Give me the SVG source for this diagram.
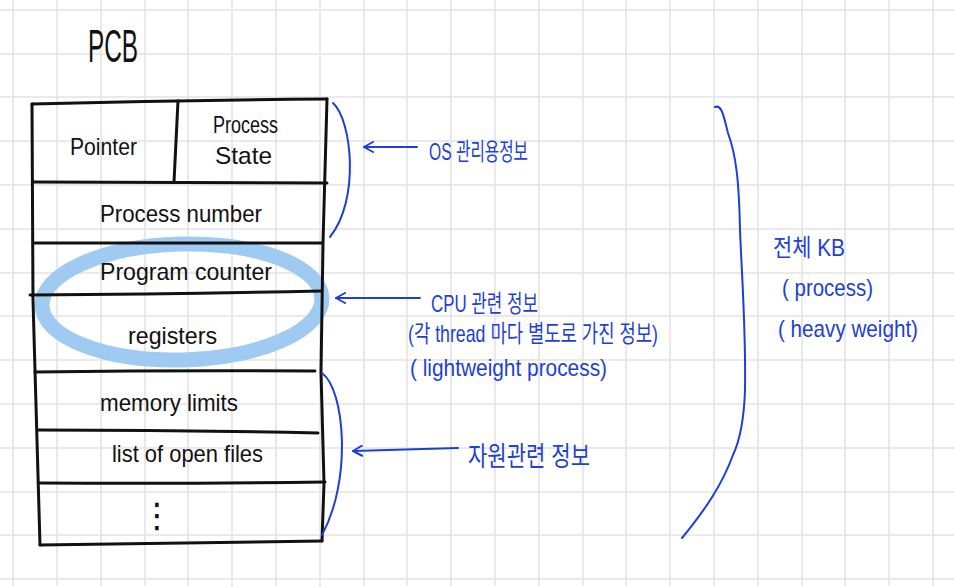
<svg xmlns="http://www.w3.org/2000/svg" width="954" height="586" viewBox="0 0 954 586">
<defs>
<style>
.grid{stroke:#e4e4e4;stroke-width:1.6;fill:none}
.ink{stroke:#111;stroke-width:3;fill:none;stroke-linecap:round;stroke-linejoin:round}
.blu{stroke:#1d3fd6;stroke-width:2;fill:none;stroke-linecap:round;stroke-linejoin:round}
.lbl{font-family:"Liberation Sans","Noto Sans",sans-serif;font-size:24px;fill:#111}
.note{font-family:"Liberation Sans","Noto Sans CJK KR",sans-serif;font-size:24px;fill:#1d3fd6}
.big{font-size:27px}
</style>
<marker id="ah" viewBox="0 0 12 12" refX="11" refY="6" markerWidth="12" markerHeight="12" markerUnits="userSpaceOnUse" orient="auto">
<path d="M2,1 L11,6 L2,11" fill="none" stroke="#1d3fd6" stroke-width="2" stroke-linecap="round" stroke-linejoin="round"/>
</marker>
</defs>
<rect width="954" height="586" fill="#fff"/>
<path class="grid" d="M13,0V586M57,0V586M101,0V586M145,0V586M188,0V586M232,0V586M276,0V586M320,0V586M364,0V586M407,0V586M451,0V586M495,0V586M539,0V586M583,0V586M626,0V586M670,0V586M714,0V586M758,0V586M802,0V586M845,0V586M889,0V586M933,0V586
M0,10H954M0,54H954M0,97H954M0,141H954M0,185H954M0,229H954M0,273H954M0,316H954M0,360H954M0,404H954M0,448H954M0,492H954M0,535H954M0,579H954"/>

<g id="title">
<text x="88" y="62" font-family="Liberation Sans, sans-serif" font-size="47" fill="#111" textLength="50" lengthAdjust="spacingAndGlyphs">PCB</text>
</g>

<g id="cpu-highlight">
<ellipse cx="182" cy="302" rx="140" ry="58" fill="none" stroke="#9fcbf3" stroke-width="15" transform="rotate(-1.5 182 302)"/>
</g>

<g id="pcb-frame">
<path class="ink" d="M32,104 Q180,100 327,99"/>
<path class="ink" d="M32,104 L33,300 L40,545"/>
<path class="ink" d="M327,99 L323,243 L321,372 L324,483 L322,541"/>
<path class="ink" d="M40,545 Q180,543 322,541"/>
</g>

<g id="cell-pointer">
<path class="ink" d="M178,101 L174,182"/>
<text class="lbl" x="70" y="155" textLength="67" lengthAdjust="spacingAndGlyphs">Pointer</text>
</g>
<g id="cell-process-state">
<text class="lbl" x="213" y="133" textLength="65" lengthAdjust="spacingAndGlyphs">Process</text>
<text class="lbl" x="215" y="164" textLength="57" lengthAdjust="spacingAndGlyphs">State</text>
</g>
<g id="cell-process-number">
<path class="ink" d="M33,182 L327,183"/>
<text class="lbl" x="100" y="222" textLength="162" lengthAdjust="spacingAndGlyphs">Process number</text>
</g>
<g id="cell-program-counter">
<path class="ink" d="M33,243 L322,243"/>
<text class="lbl" x="100" y="280" textLength="172" lengthAdjust="spacingAndGlyphs">Program counter</text>
</g>
<g id="cell-registers">
<path class="ink" d="M30,295 Q180,294 321,291"/>
<text class="lbl" x="128" y="344" textLength="89" lengthAdjust="spacingAndGlyphs">registers</text>
</g>
<g id="cell-memory-limits">
<path class="ink" d="M35,372 Q180,370 315,371"/>
<text class="lbl" x="100" y="411" textLength="138" lengthAdjust="spacingAndGlyphs">memory limits</text>
</g>
<g id="cell-open-files">
<path class="ink" d="M38,430 Q180,430 318,433"/>
<text class="lbl" x="112" y="462" textLength="151" lengthAdjust="spacingAndGlyphs">list of open files</text>
</g>
<g id="cell-more">
<path class="ink" d="M40,483 Q180,484 325,482"/>
<text x="157" y="527" text-anchor="middle" font-family="DejaVu Sans, sans-serif" font-size="34" fill="#111">⋮</text>
</g>

<g id="connectors">
<path class="blu" d="M333,103 C352,120 360,200 330,237"/>
<path class="blu" d="M417,147 L364,147" marker-end="url(#ah)"/>
<path class="blu" d="M420,298 L336,298" marker-end="url(#ah)"/>
<path class="blu" d="M322,373 C345,390 352,480 322,535"/>
<path class="blu" stroke-width="3" d="M458,448 L353,451" marker-end="url(#ah)"/>
<path class="blu" stroke-width="3" d="M715,107 C722,104 724,118 728,133 C736,155 739,180 740,230 C742,280 746,330 745,390 C744,420 740,440 733,455 C722,485 705,510 682,538"/>
</g>

<g id="note-os">
<text class="note" x="429" y="160" textLength="99" lengthAdjust="spacingAndGlyphs">OS 관리용정보</text>
</g>
<g id="note-cpu">
<text class="note" x="431" y="312" textLength="107" lengthAdjust="spacingAndGlyphs">CPU 관련 정보</text>
<text class="note" x="408" y="342" textLength="250" lengthAdjust="spacingAndGlyphs">(각 thread 마다 별도로 가진 정보)</text>
<text class="note" x="410" y="376" textLength="197" lengthAdjust="spacingAndGlyphs">( lightweight process)</text>
</g>
<g id="note-resource">
<text class="note big" x="468" y="466" textLength="122" lengthAdjust="spacingAndGlyphs">자원관련 정보</text>
</g>
<g id="note-whole">
<text class="note" x="773" y="256" textLength="72" lengthAdjust="spacingAndGlyphs">전체 KB</text>
<text class="note" x="782" y="296" textLength="91" lengthAdjust="spacingAndGlyphs">( process)</text>
<text class="note" x="778" y="337" textLength="140" lengthAdjust="spacingAndGlyphs">( heavy weight)</text>
</g>
</svg>
